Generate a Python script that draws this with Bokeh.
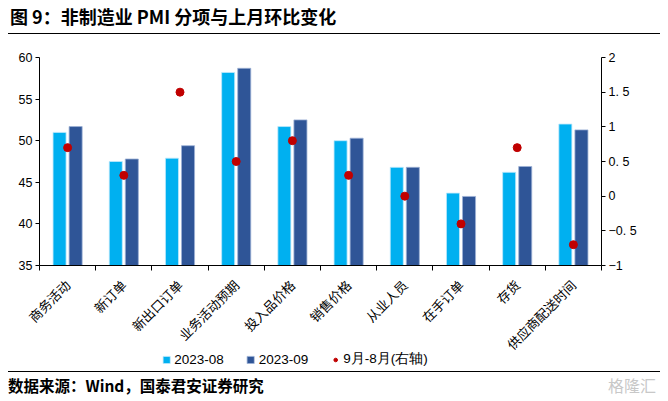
import math
from bokeh.plotting import figure
from bokeh.models import (Range1d, LinearAxis, FixedTicker, Legend, LegendItem, Div, ColumnDataSource)
from bokeh.layouts import column
from bokeh.transform import dodge
from bokeh.embed import file_html
from bokeh.resources import INLINE

# ---------------- data ----------------
categories = ["商务活动", "新订单", "新出口订单", "业务活动预期", "投入品价格",
              "销售价格", "从业人员", "在手订单", "存货", "供应商配送时间"]
aug_2023 = [51.0, 47.5, 47.9, 58.2, 51.7, 50.0, 46.8, 43.7, 46.2, 52.0]
sep_2023 = [51.7, 47.8, 49.4, 58.7, 52.5, 50.3, 46.8, 43.3, 46.9, 51.3]
mom_change = [0.7, 0.3, 1.5, 0.5, 0.8, 0.3, 0.0, -0.4, 0.7, -0.7]
left_ticks = [35, 40, 45, 50, 55, 60]
right_ticks = [-1, -0.5, 0, 0.5, 1, 1.5, 2]
right_tick_labels = ["−1", "−0. 5", "0", "0. 5", "1", "1. 5", "2"]
series_names = ["2023-08", "2023-09", "9月-8月(右轴)"]
title_text = "图 9：非制造业 PMI 分项与上月环比变化"
source_text = "数据来源：Wind，国泰君安证券研究"

# ---------------- styling ----------------
C_AUG = "#00B0F0"
C_SEP = "#2F5597"
C_DOT = "#C00000"
CJK = "Noto Sans CJK SC"
LAT = "Liberation Sans"

n = len(categories)
pos = list(range(1, n + 1))
src = ColumnDataSource(dict(x=pos, aug=aug_2023, sep=sep_2023, mom=mom_change))

p = figure(output_backend="svg", toolbar_location=None,
           frame_width=562, frame_height=208,
           x_range=Range1d(0.5, n + 0.5), y_range=Range1d(35, 60),
           min_border_left=31, min_border_right=59,
           min_border_top=21, min_border_bottom=80,
           background_fill_color="white", border_fill_color="white",
           outline_line_color=None)
p.xgrid.visible = False
p.ygrid.visible = False
p.extra_y_ranges = {"right": Range1d(-1, 2)}

aug_style = dict(fill_color=C_AUG, line_color="#BFE9FB", line_width=0.8)
sep_style = dict(fill_color=C_SEP, line_color="#9DB1D6", line_width=0.8)
dot_style = dict(size=8, marker="circle", fill_color=C_DOT, line_color=C_DOT)

p.vbar(x=dodge("x", -0.143), top="aug", bottom=35, width=0.232, source=src, **aug_style)
p.vbar(x=dodge("x", 0.143), top="sep", bottom=35, width=0.232, source=src, **sep_style)
p.scatter(x="x", y="mom", source=src, y_range_name="right", **dot_style)

# x axis: labels at centers, ticks at category boundaries
xa = p.xaxis[0]
xa.ticker = FixedTicker(ticks=pos, minor_ticks=[i + 0.5 for i in range(0, n + 1)])
xa.major_label_overrides = {i: c for i, c in zip(pos, categories)}
xa.major_tick_line_color = None
xa.minor_tick_line_color = "black"
xa.minor_tick_in = 0
xa.minor_tick_out = 5
xa.axis_line_color = "black"
xa.major_label_orientation = math.pi / 4
xa.major_label_text_font = CJK
xa.major_label_text_font_size = "13px"
xa.major_label_text_color = "black"
xa.major_label_standoff = 11

ya = p.yaxis[0]
ya.ticker = FixedTicker(ticks=left_ticks)
ya.minor_tick_line_color = None
ya.major_tick_in = 0
ya.major_tick_out = 4
ya.axis_line_color = "black"
ya.major_tick_line_color = "black"
ya.major_label_text_font = LAT
ya.major_label_text_font_size = "12.5px"
ya.major_label_text_color = "black"
ya.major_label_standoff = 3

ra = LinearAxis(y_range_name="right", ticker=FixedTicker(ticks=right_ticks))
ra.major_label_overrides = {t: s for t, s in zip(right_ticks, right_tick_labels)}
ra.minor_tick_line_color = None
ra.major_tick_in = 0
ra.major_tick_out = 4
ra.axis_line_color = "black"
ra.major_tick_line_color = "black"
ra.major_label_text_font = LAT
ra.major_label_text_font_size = "12.5px"
ra.major_label_text_color = "black"
ra.major_label_standoff = 3
p.add_layout(ra, "right")

# ---------------- legend strip (separate small, transparent figure) ----------------
lg = figure(output_backend="svg", toolbar_location=None,
            frame_width=573, frame_height=14,
            x_range=Range1d(0, 1), y_range=Range1d(0, 1),
            x_axis_location=None, y_axis_location=None,
            min_border=0, outline_line_color=None,
            background_fill_alpha=0, border_fill_alpha=0,
            margin=(-11, 0, 0, 0))
lg.xgrid.visible = False
lg.ygrid.visible = False
empty = ColumnDataSource(dict(x=[5], y=[5]))
l_aug = lg.vbar(x="x", top="y", width=0.1, source=empty, **aug_style)
l_sep = lg.vbar(x="x", top="y", width=0.1, source=empty, **sep_style)
l_dot = lg.scatter(x="x", y="y", source=empty, size=8, marker="circle",
                   fill_color=C_DOT, line_color=C_DOT)
legend = Legend(items=[LegendItem(label=series_names[0], renderers=[l_aug]),
                       LegendItem(label=series_names[1], renderers=[l_sep]),
                       LegendItem(label=series_names[2], renderers=[l_dot])],
                orientation="horizontal", location="center",
                glyph_width=9, glyph_height=9, label_standoff=4, spacing=22,
                padding=0, margin=0, label_height=14,
                border_line_color=None, background_fill_alpha=0,
                label_text_font=LAT, label_text_font_size="13.5px",
                label_text_color="black")
lg.add_layout(legend)

title = Div(text=("<div style='font-family:\"Noto Sans CJK SC\";font-weight:bold;font-size:18px;"
                  "line-height:16px;padding-left:2px;height:26px;border-bottom:1.5px solid black;"
                  "width:652px;color:black'>" + title_text + "</div>"),
            width=652, height=28, margin=0)
footer = Div(text=("<div style='border-top:1.5px solid black;width:652px;height:22px;position:relative;'>"
                   "<span style='position:absolute;left:0px;top:4px;font-family:\"Noto Sans CJK SC\";"
                   "font-weight:bold;font-size:15.5px;line-height:18px;color:black'>" + source_text + "</span>"
                   "<span style='position:absolute;right:4px;top:4px;font-family:\"Noto Sans CJK SC\";"
                   "font-size:16px;line-height:18px;color:#C8C8C8'>格隆汇</span></div>"),
             width=652, height=24, margin=(5, 0, 0, 0))

layout = column(title, p, lg, footer, spacing=0, margin=(8, 0, 0, 8))
open("out.html", "w").write(file_html(layout, INLINE))
